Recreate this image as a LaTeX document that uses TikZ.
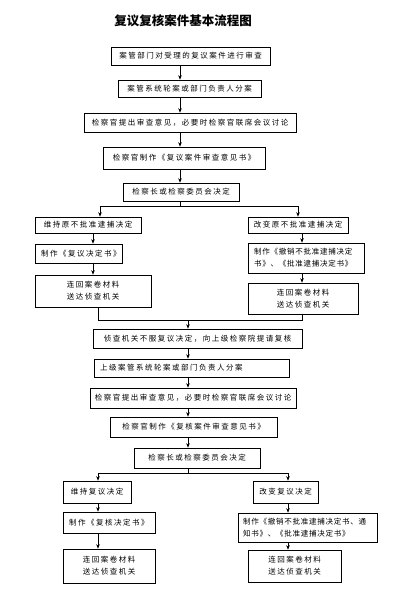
\documentclass[tikz,border=0pt]{standalone}
\usepackage{fontspec}
\setmainfont{Noto Sans CJK SC}[LetterSpace=20]
\newfontfamily\titlefont{Noto Sans CJK SC}
\newfontfamily\tightfont{Noto Sans CJK SC}[LetterSpace=10]
\usetikzlibrary{arrows.meta}
\begin{document}
\begin{tikzpicture}[x=1pt,y=-1pt,
  bx/.style={draw,line width=0.6pt,inner sep=0pt,align=center,font=\fontsize{7.5}{12}\selectfont},
  bxl/.style={draw,line width=0.6pt,inner ysep=0pt,inner xsep=6pt,align=left,font=\fontsize{7.5}{12}\selectfont},
  ln/.style={line width=0.6pt},
  arr/.style={line width=0.6pt,-{Stealth[length=4.5pt,width=3.5pt]}}]
\useasboundingbox (0,0) rectangle (410,591);
\node[font=\titlefont\bfseries\fontsize{12.5}{14}\selectfont] (t) at (183,21) {复议复核案件基本流程图};
% upper chain
\node[bx,minimum width=159pt,minimum height=18pt] (b1) at (190.5,56) {案管部门对受理的复议案件进行审查};
\node[bx,minimum width=143pt,minimum height=17pt] (b2) at (189.5,88.5) {案管系统轮案或部门负责人分案};
\node[bx,minimum width=212pt,minimum height=19pt] (b3) at (190,122.5) {检察官提出审查意见，必要时检察官联席会议讨论};
\node[bx,minimum width=162pt,minimum height=22pt] (b4) at (184,158) {检察官制作《复议案件审查意见书》};
\node[bx,minimum width=116pt,minimum height=18pt] (b5) at (181,192) {检察长或检察委员会决定};
\coordinate (ax) at (180,0);
\foreach \a/\b in {b1/b2,b2/b3,b3/b4,b4/b5}
  \draw[arr] (\a.south -| ax) -- (\b.north -| ax);
% first branch
\node[bx,minimum width=106pt,minimum height=16pt] (L1) at (88,225) {维持原不批准逮捕决定};
\node[bx,minimum width=100pt,minimum height=16pt] (R1) at (298,225) {改变原不批准逮捕决定};
\node[bxl,text width=75pt,minimum height=19pt] (L2) at (78.5,253.5) {制作《复议决定书》};
\node[bxl,text width=104pt,minimum height=30pt,inner xsep=6pt,font=\tightfont\fontsize{7.5}{12}\selectfont] (R2) at (306,258) {制作《撤销不批准逮捕决定\\书》、《批准逮捕决定书》};
\node[bx,minimum width=116pt,minimum height=32pt] (L3) at (93,291) {连回案卷材料\\送达侦查机关};
\node[bx,minimum width=110pt,minimum height=31pt] (R3) at (303,298.5) {连回案卷材料\\送达侦查机关};
\coordinate (s1) at (180,206);
\coordinate (bl) at (100,206);
\coordinate (br) at (298,206);
\draw[ln] (b5.south -| s1) -- (s1);
\draw[ln] (bl) -- (br);
\draw[arr] (bl) -- (L1.north -| bl);
\draw[arr] (br) -- (R1.north -| br);
\coordinate (lx) at (93,0);
\coordinate (rx) at (302,0);
\draw[arr] (L1.south -| lx) -- (L2.north -| lx);
\draw[arr] (L2.south -| lx) -- (L3.north -| lx);
\draw[arr] (R1.south -| rx) -- (R2.north -| rx);
\draw[arr] (R2.south -| rx) -- (R3.north -| rx);
% merge
\coordinate (ml) at (98,320);
\coordinate (mr) at (302,320);
\coordinate (mc) at (188,320);
\draw[ln] (L3.south -| ml) -- (ml) -- (mr) -- (R3.south -| mr);
% lower chain
\node[bx,minimum width=209pt,minimum height=19pt] (b6) at (197.5,338.5) {侦查机关不服复议决定，向上级检察院提请复核};
\node[bxl,text width=183pt,minimum height=18pt] (b7) at (191.5,368) {上级案管系统轮案或部门负责人分案};
\node[bx,minimum width=206pt,minimum height=20pt] (b8) at (193,398) {检察官提出审查意见，必要时检察官联席会议讨论};
\node[bx,minimum width=167pt,minimum height=20pt] (b9) at (193.5,427) {检察官制作《复核案件审查意见书》};
\node[bx,minimum width=126pt,minimum height=20pt] (b10) at (197,458) {检察长或检察委员会决定};
\draw[arr] (mc) -- (b6.north -| mc);
\coordinate (bx2) at (188,0);
\foreach \a/\b in {b6/b7,b7/b8,b8/b9,b9/b10}
  \draw[arr] (\a.south -| bx2) -- (\b.north -| bx2);
% second branch
\node[bx,minimum width=68pt,minimum height=22pt] (L4) at (97,492) {维持复议决定};
\node[bx,minimum width=65pt,minimum height=22pt] (R4) at (285.5,492) {改变复议决定};
\node[bxl,text width=80pt,minimum height=21pt] (L5) at (109,522.5) {制作《复核决定书》};
\node[bxl,text width=129pt,minimum height=29pt,inner xsep=5pt,font=\tightfont\fontsize{7.5}{12}\selectfont] (R5) at (307.5,527.5) {制作《撤销不批准逮捕决定书、通\\知书》、《批准逮捕决定书》};
\node[bx,minimum width=92pt,minimum height=34pt] (L6) at (109,566) {连回案卷材料\\送达侦查机关};
\node[bx,minimum width=93pt,minimum height=32pt] (R6) at (294.5,566) {连回案卷材料\\送达侦查机关};
\coordinate (s2) at (188,473);
\coordinate (cl) at (98,473);
\coordinate (cr) at (288,473);
\draw[ln] (b10.south -| s2) -- (s2);
\draw[ln] (cl) -- (cr);
\draw[arr] (cl) -- (L4.north -| cl);
\draw[arr] (cr) -- (R4.north -| cr);
\draw[arr] (L4.south -| cl) -- (L5.north -| cl);
\draw[arr] (L5.south -| cl) -- (L6.north -| cl);
\draw[arr] (R4.south -| cr) -- (R5.north -| cr);
\draw[arr] (R5.south -| cr) -- (R6.north -| cr);
\end{tikzpicture}
\end{document}
